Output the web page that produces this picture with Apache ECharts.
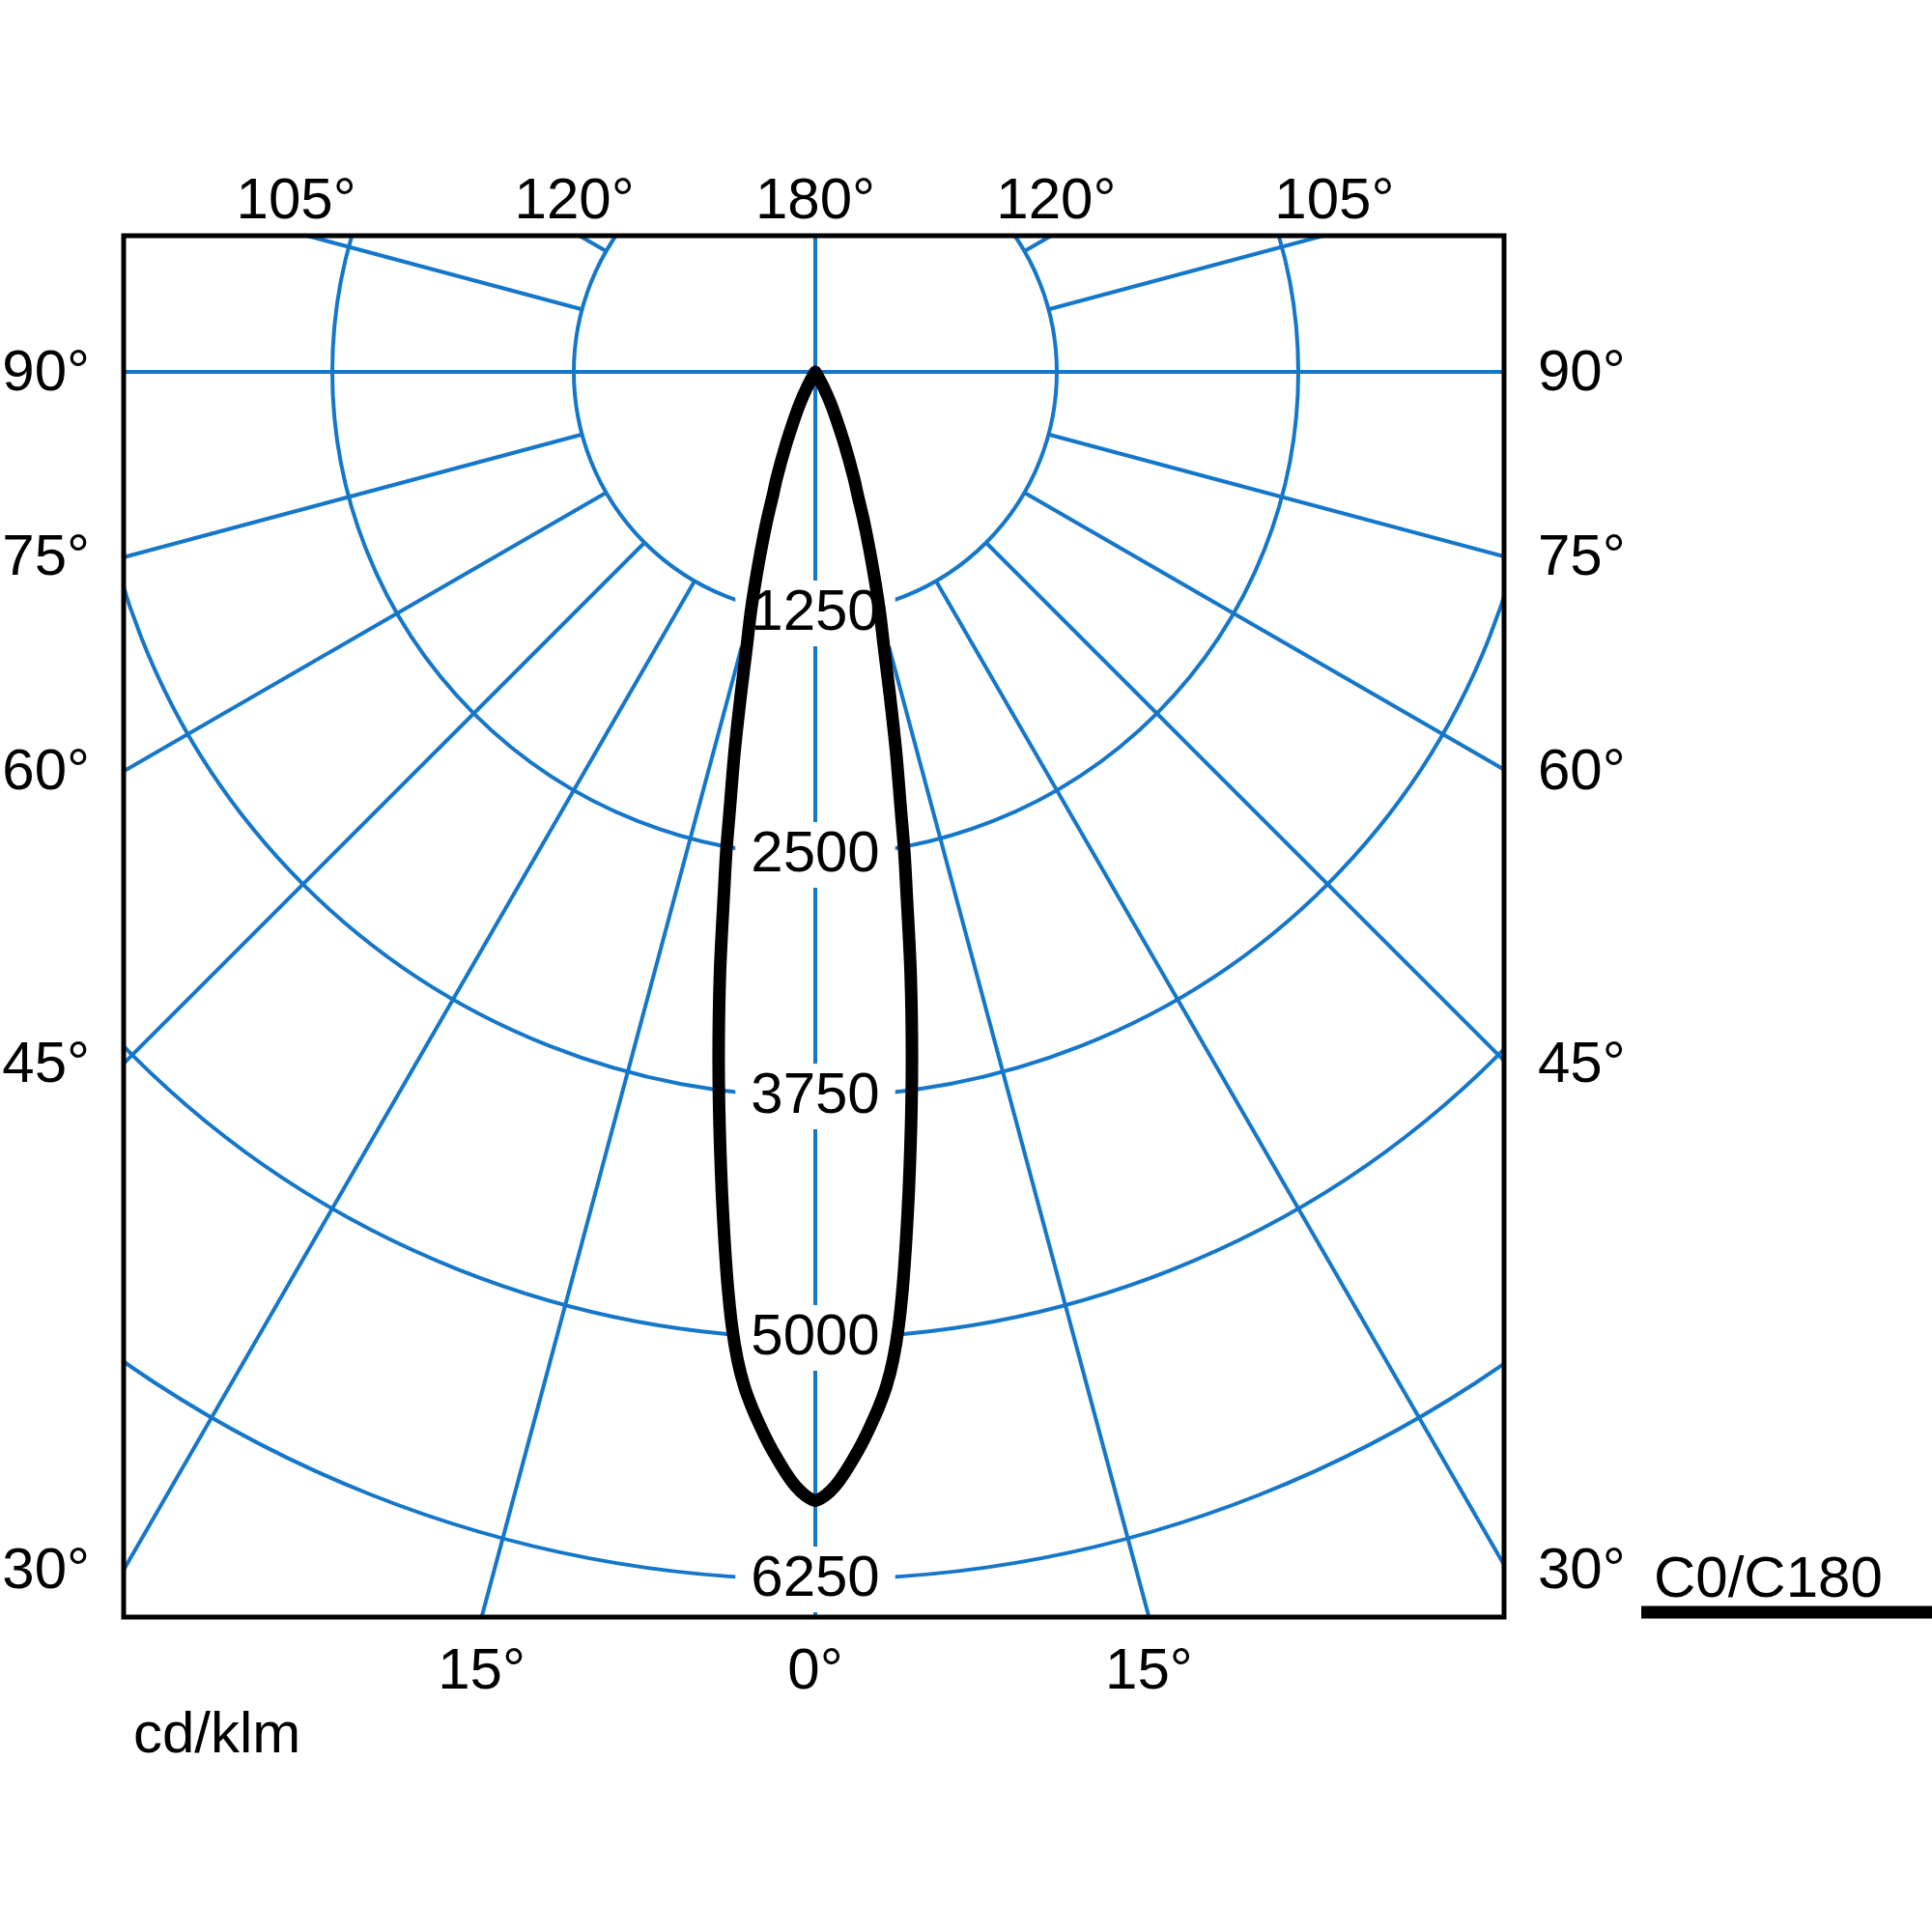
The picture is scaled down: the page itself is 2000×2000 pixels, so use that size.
<!DOCTYPE html>
<html>
<head>
<meta charset="utf-8">
<script src="https://cdn.jsdelivr.net/npm/echarts@6/dist/echarts.min.js"></script>
<style>html,body{margin:0;padding:0;background:#fff}#c{width:2000px;height:2000px}</style>
</head>
<body>
<div id="c"></div>
<script>
// ---- data ----
const gammaDeg = [0,0.5,1,1.5,2,2.5,3,3.5,4,4.5,5,5.5,6,6.5,7,7.5,8,9,10,10.5,11,12,13,14,15,16,17,18,19,20,22,24,26,28,30,31,45,90,135,180];
const intensityC0C180 = [5842,5817,5770,5705,5630,5550,5462,5370,5265,5130,4955,4740,4505,4272,4041,3817,3595,3155,2715,2530,2330,2010,1713,1469,1293,1116,955,814,673,584,404,270,180,95,20,0,0,0,0,0];
const ringValues = [1250,2500,3750,5000,6250];
const spokeAngles = [0,15,30,45,60,75,90,105,120,135,150,165,180,195,210,225,240,255,270,285,300,315,330,345];
const fullSpokeAngles = [0,90,180,270];
const topTickLabels = ['105°','120°','180°','120°','105°'];
const topTickAngles = [105,120,180,240,255];
const leftTickLabels = ['90°','75°','60°','45°','30°'];
const leftTickAngles = [90,75,60,45,30];
const rightTickLabels = ['90°','75°','60°','45°','30°'];
const rightTickAngles = [270,285,300,315,330];
const bottomTickLabels = ['15°','0°','15°'];
const bottomTickAngles = [15,0,345];
const seriesName = 'C0/C180';
const unitLabel = 'cd/klm';

// ---- layout ----
const CX = 844, CY = 385, RPX = 1500, RMAX = 7500, RING_STEP = 1250;
const FL = 128, FT = 244, FR = 1557, FB = 1674;
const BLUE = '#1577c9';
const FONT = '"Liberation Sans", Arial, Helvetica, sans-serif';
const FS = 60;

const chart = echarts.init(document.getElementById('c'), null, {renderer: 'canvas'});

// curve: C0 half on the right (angle 360-g), C180 half on the left (angle g)
const curve = [];
for (let i = gammaDeg.length - 1; i >= 0; i--) curve.push([intensityC0C180[i], (360 - gammaDeg[i]) % 360]);
for (let i = 1; i < gammaDeg.length; i++) curve.push([intensityC0C180[i], gammaDeg[i]]);

const spokeSeries = spokeAngles.map(a => ({
  type: 'line', coordinateSystem: 'polar', silent: true, z: 1, symbol: 'none', clip: false,
  data: [[fullSpokeAngles.includes(a) ? 0 : RING_STEP, a], [RMAX, a]],
  lineStyle: {color: BLUE, width: 4}
}));

const option = {
  backgroundColor: '#fff',
  animation: false,
  polar: {center: [CX, CY], radius: RPX},
  angleAxis: {
    type: 'value', min: 0, max: 360, startAngle: 270, clockwise: true,
    axisLine: {show: false}, axisTick: {show: false}, axisLabel: {show: false}, splitLine: {show: false}
  },
  radiusAxis: {
    type: 'value', min: 0, max: RMAX, interval: RING_STEP,
    axisLine: {show: false}, axisTick: {show: false}, axisLabel: {show: false},
    splitLine: {show: true, lineStyle: {color: BLUE, width: 4}}
  },
  series: spokeSeries.concat([
    {
      type: 'scatter', coordinateSystem: 'polar', z: 3, silent: true,
      symbolSize: 0, itemStyle: {opacity: 1},
      data: ringValues.map(v => [v, 0]),
      label: {
        show: true, position: 'inside', formatter: p => String(p.value[0]),
        fontSize: FS, fontFamily: FONT, color: '#000', opacity: 1,
        backgroundColor: '#fff', padding: [4, 16], lineHeight: 60
      }
    },
    {
      name: seriesName, type: 'line', coordinateSystem: 'polar', z: 4, silent: true,
      symbol: 'none', clip: false, smooth: 0.3, data: curve,
      lineStyle: {color: '#000', width: 13, join: 'round', cap: 'round'}
    }
  ])
};
chart.setOption(option);

// direction of an angle in pixels, from the library's polar scale
function ray(angle) {
  let p0 = null, p1 = null;
  try {
    p0 = chart.convertToPixel({polarIndex: 0}, [0, angle]);
    p1 = chart.convertToPixel({polarIndex: 0}, [RMAX, angle]);
  } catch (e) {}
  if (!p0 || !p1) {
    const t = (270 - angle) * Math.PI / 180;
    p0 = [CX, CY];
    p1 = [CX + RPX * Math.cos(t), CY - RPX * Math.sin(t)];
  }
  return {x0: p0[0], y0: p0[1], ux: p1[0] - p0[0], uy: p1[1] - p0[1]};
}
function txt(text, x, y, align) {
  return {type: 'text', z: 102, silent: true,
    style: {text: text, x: x, y: y, fill: '#000', fontSize: FS, fontFamily: FONT,
      textAlign: align, textVerticalAlign: 'middle'}};
}
const els = [
  {type: 'rect', z: 100, silent: true, shape: {x: 0, y: 0, width: 2000, height: FT}, style: {fill: '#fff'}},
  {type: 'rect', z: 100, silent: true, shape: {x: 0, y: FB, width: 2000, height: 2000 - FB}, style: {fill: '#fff'}},
  {type: 'rect', z: 100, silent: true, shape: {x: 0, y: 0, width: FL, height: 2000}, style: {fill: '#fff'}},
  {type: 'rect', z: 100, silent: true, shape: {x: FR, y: 0, width: 2000 - FR, height: 2000}, style: {fill: '#fff'}},
  {type: 'rect', z: 101, silent: true, shape: {x: FL, y: FT, width: FR - FL, height: FB - FT},
    style: {fill: 'none', stroke: '#000', lineWidth: 5}}
];
topTickAngles.forEach((a, i) => {
  const r = ray(a); const t = (FT - 3 - r.y0) / r.uy;
  els.push(txt(topTickLabels[i], r.x0 + t * r.ux, 209, 'center'));
});
bottomTickAngles.forEach((a, i) => {
  const r = ray(a); const t = (FB - r.y0) / r.uy;
  els.push(txt(bottomTickLabels[i], r.x0 + t * r.ux, 1731, 'center'));
});
leftTickAngles.forEach((a, i) => {
  const r = ray(a); const t = (FL - r.x0) / r.ux;
  els.push(txt(leftTickLabels[i], 93, r.y0 + t * r.uy + 2, 'right'));
});
rightTickAngles.forEach((a, i) => {
  const r = ray(a); const t = (2 * r.x0 - FL - r.x0) / r.ux;
  els.push(txt(rightTickLabels[i], 1592, r.y0 + t * r.uy + 2, 'left'));
});
els.push(txt(unitLabel, 138, 1797, 'left'));
els.push(txt(seriesName, 1712, 1636, 'left'));
els.push({type: 'line', z: 102, silent: true, shape: {x1: 1699, y1: 1669, x2: 2000, y2: 1669},
  style: {stroke: '#000', lineWidth: 13}});
chart.setOption({graphic: {elements: els}});
</script>
</body>
</html>
